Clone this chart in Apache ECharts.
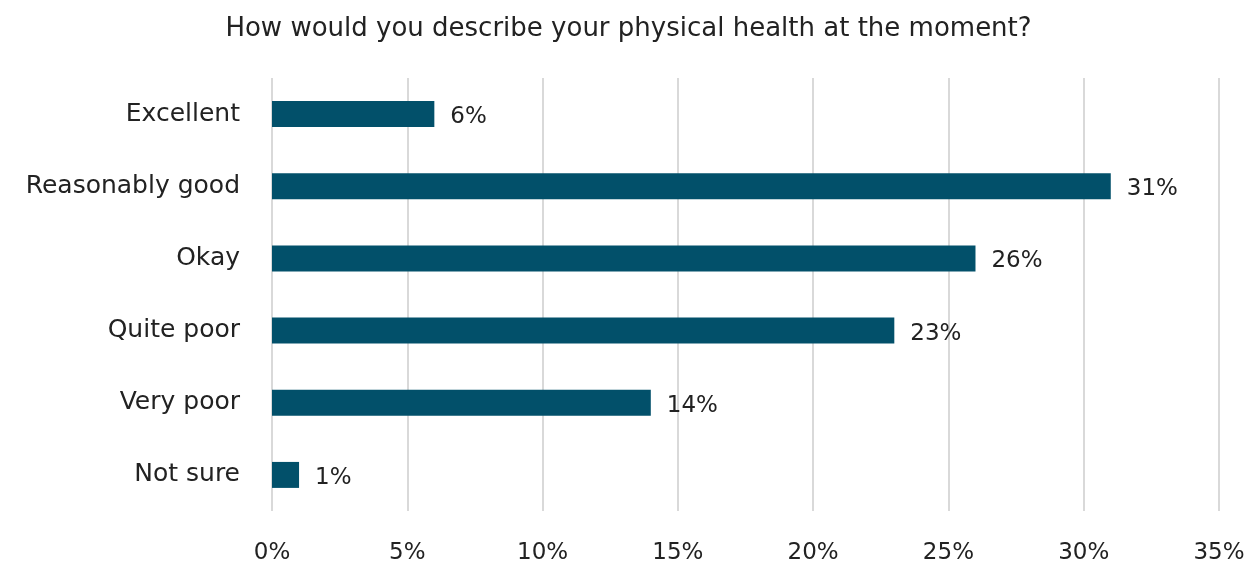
<!DOCTYPE html>
<html>
<head>
<meta charset="utf-8">
<script src="https://cdn.jsdelivr.net/npm/echarts@6/dist/echarts.min.js"></script>
<style>
  html, body { margin: 0; padding: 0; background: #fff; }
  #chart { width: 1257px; height: 565px; }
</style>
</head>
<body>
<div id="chart"></div>
<script>
// Survey answers, top to bottom as shown
const categories = ['Excellent', 'Reasonably good', 'Okay', 'Quite poor', 'Very poor', 'Not sure'];
const shares = [6, 31, 26, 23, 14, 1];
const axisTicks = [0, 5, 10, 15, 20, 25, 30, 35];

const FONT = 'DejaVu Sans';
const TEXT = '#222222';

const chart = echarts.init(document.getElementById('chart'), null, { renderer: 'canvas' });

chart.setOption({
  animation: false,
  backgroundColor: '#ffffff',
  title: {
    text: 'How would you describe your physical health at the moment?',
    left: 'center',
    top: 11,
    textStyle: { fontFamily: FONT, fontSize: 26, fontWeight: 'normal', color: TEXT }
  },
  grid: { left: 272, right: 38, top: 78, bottom: 53, containLabel: false },
  xAxis: {
    type: 'value',
    min: axisTicks[0],
    max: axisTicks[axisTicks.length - 1],
    interval: axisTicks[1] - axisTicks[0],
    axisLine: { show: false },
    axisTick: { show: false },
    splitLine: { show: true, lineStyle: { color: '#d9d9d9', width: 2 } },
    axisLabel: {
      margin: 31,
      fontFamily: FONT, fontSize: 23, color: TEXT,
      formatter: v => v + '%'
    }
  },
  yAxis: {
    type: 'category',
    inverse: true,
    data: categories,
    axisLine: { show: false },
    axisTick: { show: false },
    axisLabel: { margin: 32, fontFamily: FONT, fontSize: 25, color: TEXT }
  },
  series: [{
    type: 'bar',
    data: shares,
    barWidth: '36%',
    itemStyle: { color: '#02506a' },
    label: {
      show: true,
      position: 'right',
      distance: 16,
      offset: [0, 3],
      fontFamily: FONT, fontSize: 23, color: TEXT,
      formatter: p => p.value + '%'
    }
  }]
});
</script>
</body>
</html>
